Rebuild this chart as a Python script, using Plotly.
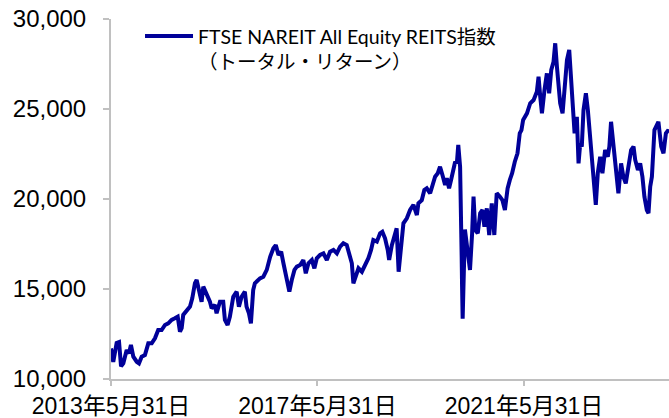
import plotly.graph_objects as go

# ---- data ----
dates = [
    "2013-05-31","2013-06-16","2013-07-10","2013-07-27","2013-08-10","2013-08-26","2013-09-19","2013-10-05",
    "2013-10-19","2013-11-05","2013-11-29","2013-12-15","2014-01-03","2014-01-26","2014-02-19","2014-03-15",
    "2014-04-07","2014-04-30","2014-05-24","2014-06-17","2014-07-10","2014-08-03","2014-08-26","2014-09-15",
    "2014-10-01","2014-10-13","2014-10-24","2014-11-17","2014-12-11","2014-12-27","2015-01-15","2015-01-27",
    "2015-02-14","2015-03-03","2015-03-15","2015-04-08","2015-05-01","2015-05-13","2015-06-05","2015-06-17",
    "2015-07-11","2015-08-03","2015-08-15","2015-09-03","2015-09-19","2015-10-13","2015-11-06","2015-11-22",
    "2015-12-11","2016-01-03","2016-01-15","2016-02-01","2016-02-15","2016-03-02","2016-03-14","2016-04-19",
    "2016-05-13","2016-06-06","2016-06-30","2016-07-23","2016-08-09","2016-08-28","2016-09-16","2016-10-02",
    "2016-10-19","2016-11-02","2016-11-13","2016-11-30","2016-12-19","2017-01-05","2017-01-28","2017-02-20",
    "2017-03-09","2017-03-28","2017-04-21","2017-05-09","2017-05-26","2017-06-18","2017-07-12","2017-08-05",
    "2017-08-28","2017-09-21","2017-10-15","2017-11-07","2017-11-30","2017-12-24","2018-01-10","2018-01-29",
    "2018-02-09","2018-02-28","2018-03-17","2018-04-10","2018-05-03","2018-05-26","2018-06-14","2018-06-30",
    "2018-07-25","2018-08-17","2018-09-02","2018-09-21","2018-10-10","2018-10-20","2018-11-08","2018-12-01",
    "2018-12-12","2018-12-26","2019-01-18","2019-01-29","2019-02-22","2019-03-17","2019-04-10","2019-05-04",
    "2019-05-15","2019-06-08","2019-06-26","2019-07-13","2019-08-06","2019-08-29","2019-09-10","2019-09-29",
    "2019-10-15","2019-11-01","2019-11-20","2019-12-02","2019-12-18","2020-01-01","2020-01-18","2020-01-30",
    "2020-02-11","2020-02-21","2020-03-05","2020-03-11","2020-03-16","2020-03-19","2020-03-23","2020-04-08",
    "2020-04-20","2020-05-01","2020-05-14","2020-05-29","2020-06-08","2020-06-20","2020-07-08","2020-07-25",
    "2020-08-10","2020-08-24","2020-09-10","2020-09-27","2020-10-15","2020-11-02","2020-11-19","2020-12-12",
    "2020-12-29","2021-01-16","2021-02-04","2021-02-20","2021-03-08","2021-03-27","2021-04-15","2021-05-01",
    "2021-05-13","2021-05-25","2021-06-21","2021-07-14","2021-08-07","2021-08-30","2021-09-11","2021-09-23",
    "2021-10-05","2021-10-23","2021-11-09","2021-11-25","2021-12-10","2021-12-26","2022-01-07","2022-01-19",
    "2022-01-30","2022-02-11","2022-02-28","2022-03-14","2022-03-31","2022-04-16","2022-04-30","2022-05-09",
    "2022-05-24","2022-06-09","2022-06-21","2022-07-03","2022-07-14","2022-07-26","2022-08-12","2022-08-26",
    "2022-09-11","2022-09-27","2022-10-11","2022-10-21","2022-11-04","2022-11-21","2022-12-07","2022-12-26",
    "2023-01-14","2023-01-25","2023-02-06","2023-02-18","2023-03-02","2023-03-19","2023-03-30","2023-04-18",
    "2023-05-04","2023-05-21","2023-06-09","2023-06-28","2023-07-15","2023-07-27","2023-08-15","2023-08-31",
    "2023-09-16","2023-09-30","2023-10-17","2023-10-29","2023-11-10","2023-11-22","2023-12-10","2023-12-27",
    "2024-01-07","2024-01-27","2024-02-12","2024-02-29","2024-03-18","2024-03-22",
]
index_values = [
    11700,10950,12000,12050,10700,10870,11610,11430,
    11890,11240,10960,10870,11240,11330,11980,11980,
    12260,12720,12720,13000,13090,13280,13370,13460,
    12630,12820,13560,13830,14020,14480,15320,15500,
    14940,14290,15130,14760,14290,13930,14110,13650,
    14290,14290,13280,13000,13460,14570,14850,14020,
    14570,14850,14020,13650,13090,14940,15320,15590,
    15680,16060,16790,17260,17440,16890,17070,16430,
    15870,15320,14850,15500,16060,16240,16330,16610,
    15870,16430,16610,16150,16710,16890,16980,16610,
    17070,17170,16980,17350,17540,17440,16980,16430,
    15320,15870,16150,15960,16330,16710,17170,17720,
    17630,18090,18180,17820,17170,16610,17440,18090,
    18370,15960,17720,18650,18930,19390,19670,19110,
    19760,19940,20500,20590,20320,20870,21240,21430,
    21790,21330,20780,21150,20590,21060,21610,22070,
    21980,23000,21790,20130,16790,15130,13350,18300,
    17500,16800,16060,18090,20130,18280,18090,19210,
    19390,18460,19480,18000,19760,18000,20320,20130,
    19940,19390,20590,21060,21430,22070,22540,23650,
    23830,24390,24760,25320,25500,25960,26790,25680,
    24760,26060,26980,25870,27170,27630,28650,27350,
    26610,25320,24760,26240,27720,28280,26790,25320,
    23650,24570,21980,23090,22910,24940,25870,24940,
    23460,21790,20500,19670,21430,22350,21430,22720,
    22350,22910,24290,23280,22170,21060,20320,21980,
    21240,20870,21980,22720,22910,22170,21610,21980,
    21240,20130,19390,19210,20680,21240,23830,24210,
    24290,22910,22540,23650,23830,23700,
]
series_name = "FTSE NAREIT All Equity REITS指数<br>（トータル・リターン）"
x_tick_vals = ["2013-05-31", "2017-05-31", "2021-05-31"]
x_tick_text = ["2013年5月31日", "2017年5月31日", "2021年5月31日"]
y_tick_vals = [10000, 15000, 20000, 25000, 30000]

fig = go.Figure()
fig.add_trace(go.Scatter(
    x=dates, y=index_values, mode="lines", name=series_name,
    line=dict(color="#000099", width=4),
))

axis_font = "Liberation Sans, Arial, Noto Sans CJK JP, sans-serif"
fig.update_layout(
    width=669, height=418,
    margin=dict(l=111, r=0, t=19, b=39, autoexpand=False),
    paper_bgcolor="white", plot_bgcolor="white",
    showlegend=True,
    legend=dict(
        x=0.052, y=1.006, xanchor="left", yanchor="top",
        bgcolor="rgba(0,0,0,0)", valign="top",
        font=dict(family="Lato, Noto Sans CJK JP, sans-serif", size=19.5, color="black"),
        itemwidth=48,
    ),
    xaxis=dict(
        type="date", range=[dates[0], dates[-1]], automargin=False,
        tickvals=x_tick_vals, ticktext=x_tick_text,
        showgrid=False, zeroline=False,
        showline=True, linecolor="#c0c0c0", linewidth=2,
        ticks="outside", ticklen=5, tickwidth=2, tickcolor="#c0c0c0",
        tickfont=dict(family=axis_font, size=23, color="black"),
    ),
    yaxis=dict(
        range=[10000, 30000], tickvals=y_tick_vals, tickformat=",", automargin=False,
        showgrid=False, zeroline=False,
        showline=True, linecolor="#c0c0c0", linewidth=2,
        ticks="outside", ticklen=6, tickwidth=2, tickcolor="#c0c0c0",
        tickfont=dict(family=axis_font, size=24, color="black"),
        ticklabelstandoff=12,
    ),
)

fig.write_html(
    "out.html",
    config={"displayModeBar": False},
    post_script="document.body.style.margin='0';document.body.style.overflow='hidden';",
)
